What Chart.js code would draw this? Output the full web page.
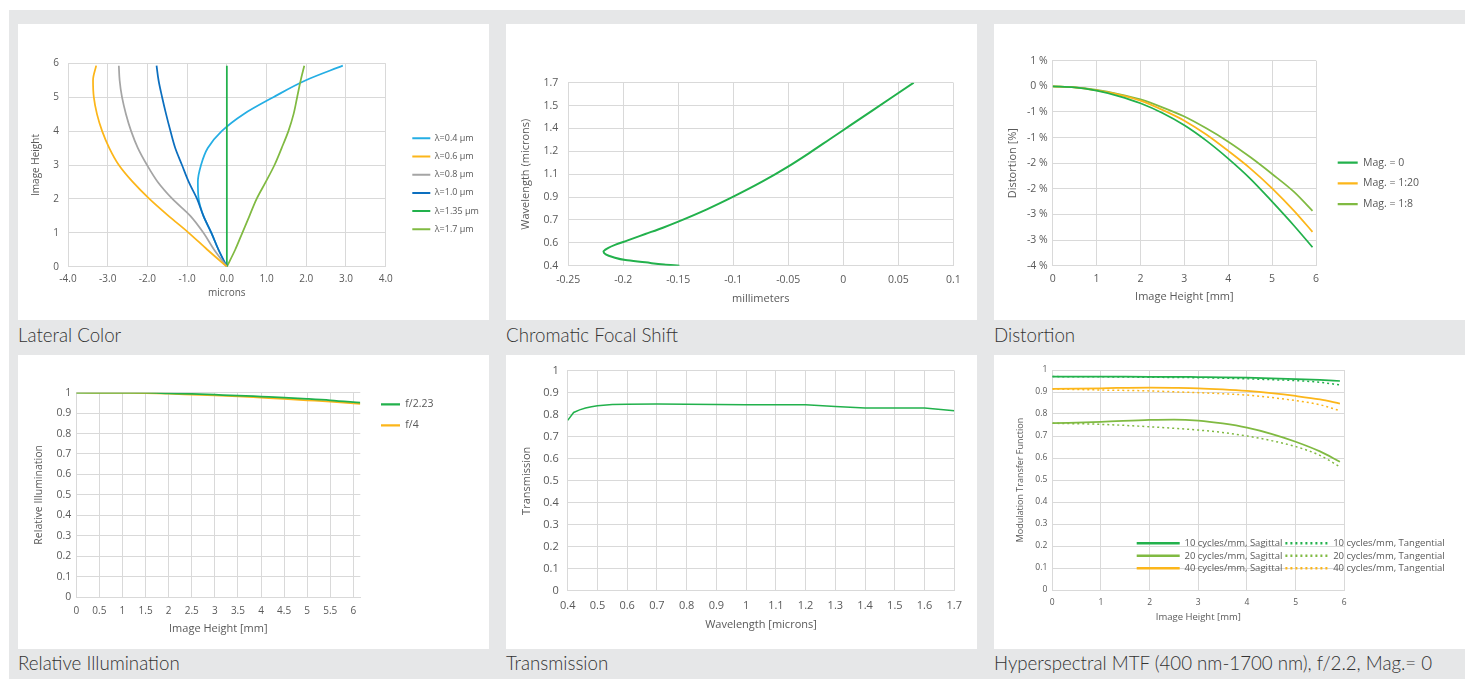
<!DOCTYPE html>
<html><head><meta charset="utf-8">
<script src="https://cdn.jsdelivr.net/npm/chart.js@4.4.1/dist/chart.umd.min.js"></script>
<style>
html,body{margin:0;padding:0;background:#fff;width:1465px;height:679px;overflow:hidden;}
#bg{position:absolute;left:9px;top:10px;width:1456px;height:669px;background:#e6e7e8;}
.panel{position:absolute;background:#fff;overflow:hidden;}
.panel canvas{display:block;}
.cap{position:absolute;font-family:Lato,'Open Sans',sans-serif;font-weight:300;font-size:18.7px;line-height:18.7px;color:#333;white-space:nowrap;}
</style></head><body>
<div id="bg"></div>
<div class="panel" style="left:18px;top:24px;width:471px;height:296px"><canvas id="c1" width="471" height="296"></canvas></div>
<div class="panel" style="left:506px;top:24px;width:471px;height:296px"><canvas id="c2" width="471" height="296"></canvas></div>
<div class="panel" style="left:994px;top:24px;width:471px;height:296px"><canvas id="c3" width="471" height="296"></canvas></div>
<div class="panel" style="left:18px;top:355px;width:471px;height:294px"><canvas id="c4" width="471" height="294"></canvas></div>
<div class="panel" style="left:506px;top:355px;width:471px;height:294px"><canvas id="c5" width="471" height="294"></canvas></div>
<div class="panel" style="left:994px;top:355px;width:471px;height:294px"><canvas id="c6" width="471" height="294"></canvas></div>
<div class="cap" style="left:18px;top:326.4px">Lateral Color</div>
<div class="cap" style="left:506px;top:326.4px">Chromatic Focal Shift</div>
<div class="cap" style="left:994px;top:326.4px">Distortion</div>
<div class="cap" style="left:18px;top:654.4px">Relative Illumination</div>
<div class="cap" style="left:506px;top:654.4px">Transmission</div>
<div class="cap" style="left:994px;top:654.4px">Hyperspectral MTF (400 nm-1700 nm), f/2.2, Mag.= 0</div>
<script>
// ---------------- DATA ----------------
// Lateral Color (x = microns, y = image height)
const latHeights = [0, 0.5, 1, 1.5, 2, 2.5, 3, 3.5, 4, 4.5, 5, 5.5, 5.93];
const lat04  = [0, -0.21, -0.39, -0.59, -0.71, -0.73, -0.65, -0.48, -0.13, 0.42, 1.17, 1.99, 2.92];
const lat06  = [0, -0.49, -0.96, -1.47, -1.95, -2.37, -2.72, -2.96, -3.14, -3.27, -3.35, -3.37, -3.29];
const lat08  = [0, -0.32, -0.59, -0.92, -1.37, -1.74, -2.01, -2.24, -2.41, -2.54, -2.64, -2.70, -2.72];
const lat10  = [0, -0.21, -0.39, -0.59, -0.75, -0.96, -1.13, -1.30, -1.42, -1.53, -1.63, -1.72, -1.77];
const lat135 = [0, 0, 0, 0, 0, 0, 0, 0, 0, 0, 0, 0, 0];
const lat17  = [0, 0.21, 0.39, 0.57, 0.75, 0.98, 1.20, 1.38, 1.55, 1.68, 1.77, 1.86, 1.95];
const latSeriesLabels = ['λ=0.4 µm', 'λ=0.6 µm', 'λ=0.8 µm', 'λ=1.0 µm', 'λ=1.35 µm', 'λ=1.7 µm'];
const latXTickLabels = ['-4.0', '-3.0', '-2.0', '-1.0', '0.0', '1.0', '2.0', '3.0', '4.0'];
const latYTickLabels = ['0', '1', '2', '3', '4', '5', '6'];

// Chromatic Focal Shift (x = millimeters, y = wavelength)
const chromWavelength = [0.40, 0.408, 0.424, 0.44, 0.46, 0.48, 0.50, 0.525, 0.55, 0.58, 0.625, 0.67, 0.713, 0.80, 0.89, 1.00, 1.10, 1.20, 1.30, 1.40, 1.50, 1.60, 1.70];
const chromShift = [-0.149, -0.163, -0.180, -0.198, -0.209, -0.216, -0.218, -0.214, -0.207, -0.196, -0.180, -0.164, -0.150, -0.124, -0.100, -0.073, -0.051, -0.031, -0.012, 0.007, 0.026, 0.045, 0.064];
const chromXTickLabels = ['-0.25', '-0.2', '-0.15', '-0.1', '-0.05', '0', '0.05', '0.1'];
const chromYTickValues = [0.4, 0.5625, 0.725, 0.8875, 1.05, 1.2125, 1.375, 1.5375, 1.7];
const chromYTickLabels = ['0.4', '0.6', '0.7', '0.9', '1.1', '1.2', '1.4', '1.5', '1.7'];

// Distortion (%)
const distHeights = [0, 0.5, 1, 1.5, 2, 2.5, 3, 3.5, 4, 4.5, 5, 5.5, 5.92];
const distMag0  = [0, -0.02, -0.085, -0.19, -0.33, -0.52, -0.76, -1.06, -1.41, -1.80, -2.25, -2.72, -3.14];
const distMag20 = [0, -0.02, -0.08, -0.16, -0.28, -0.46, -0.67, -0.94, -1.26, -1.60, -1.99, -2.43, -2.84];
const distMag8  = [0, -0.02, -0.07, -0.15, -0.255, -0.41, -0.59, -0.82, -1.08, -1.38, -1.71, -2.06, -2.43];
const distSeriesLabels = ['Mag. = 0', 'Mag. = 1:20', 'Mag. = 1:8'];
const distXTickLabels = ['0', '1', '2', '3', '4', '5', '6'];
const distYTickValues = [-3.5, -3, -2.5, -2, -1.5, -1, -0.5, 0, 0.5];
const distYTickLabels = ['-4 %', '-3 %', '-3 %', '-2 %', '-2 %', '-1 %', '-1 %', '0 %', '1 %'];

// Relative Illumination
const illumHeights = [0, 1, 1.5, 2, 2.5, 3, 3.5, 4, 4.5, 5, 5.5, 6.15];
const illumF223 = [1, 1, 1, 0.997, 0.994, 0.990, 0.986, 0.981, 0.976, 0.970, 0.963, 0.951];
const illumF4   = [1, 0.999, 0.998, 0.995, 0.991, 0.987, 0.982, 0.976, 0.970, 0.963, 0.956, 0.945];
const illumSeriesLabels = ['f/2.23', 'f/4'];
const illumXTickLabels = ['0', '0.5', '1', '1.5', '2', '2.5', '3', '3.5', '4', '4.5', '5', '5.5', '6'];
const unitYTickLabels = ['0', '0.1', '0.2', '0.3', '0.4', '0.5', '0.6', '0.7', '0.8', '0.9', '1'];

// Transmission
const transWavelength = [0.40, 0.42, 0.44, 0.46, 0.48, 0.50, 0.55, 0.60, 0.70, 0.80, 0.90, 1.00, 1.10, 1.20, 1.30, 1.40, 1.50, 1.60, 1.70];
const transValue = [0.774, 0.810, 0.822, 0.830, 0.836, 0.841, 0.846, 0.847, 0.848, 0.847, 0.846, 0.845, 0.845, 0.845, 0.837, 0.830, 0.830, 0.830, 0.818];
const transXTickLabels = ['0.4', '0.5', '0.6', '0.7', '0.8', '0.9', '1', '1.1', '1.2', '1.3', '1.4', '1.5', '1.6', '1.7'];

// Hyperspectral MTF
const mtfHeights = [0, 1, 2, 2.5, 3, 3.5, 4, 4.5, 5, 5.5, 5.91];
const mtf10S = [0.970, 0.970, 0.969, 0.969, 0.968, 0.967, 0.965, 0.962, 0.959, 0.955, 0.950];
const mtf20S = [0.758, 0.764, 0.773, 0.775, 0.770, 0.757, 0.738, 0.710, 0.674, 0.630, 0.583];
const mtf40S = [0.914, 0.917, 0.920, 0.919, 0.917, 0.912, 0.905, 0.895, 0.882, 0.866, 0.847];
const mtf10T = [0.970, 0.969, 0.967, 0.966, 0.965, 0.963, 0.960, 0.956, 0.952, 0.944, 0.932];
const mtf20T = [0.758, 0.753, 0.742, 0.735, 0.727, 0.716, 0.700, 0.679, 0.652, 0.612, 0.560];
const mtf40T = [0.914, 0.909, 0.905, 0.901, 0.897, 0.892, 0.886, 0.875, 0.861, 0.842, 0.815];
const mtfSeriesLabels = ['10 cycles/mm, Sagittal', '20 cycles/mm, Sagittal', '40 cycles/mm, Sagittal',
                         '10 cycles/mm, Tangential', '20 cycles/mm, Tangential', '40 cycles/mm, Tangential'];
const mtfXTickLabels = ['0', '1', '2', '3', '4', '5', '6'];

// ---------------- STYLE ----------------
const C_CYAN = '#25aee4', C_ORANGE = '#fcb61a', C_GRAY = '#a5a5a5', C_BLUE = '#0c6fbf', C_GREEN = '#22b14c', C_OLIVE = '#80ba42';
const TICK = '#595959', GRID = '#d9d9d9';
Chart.defaults.font.family = "'Open Sans', 'Noto Sans', sans-serif";
Chart.defaults.color = TICK;

const pts = (xs, ys) => xs.map((x, i) => ({ x: x, y: ys[i] }));
const num = arr => arr.map(s => parseFloat(s));

const placeLegend = {
  id: 'placeLegend',
  afterLayout(chart, args, o) {
    const lg = chart.legend;
    if (!lg || !o || o.x == null) return;
    lg.update(o.maxWidth || 400, o.maxHeight || 400, { left: 0, top: 0, right: 0, bottom: 0 });
    const left = o.x - o.pad, top = o.y - o.pad - o.fs / 2;
    lg.left = left; lg.top = top; lg.right = left + lg.width; lg.bottom = top + lg.height;
    if (lg.adjustHitBoxes) lg.adjustHitBoxes();
  }
};
Chart.register(placeLegend);

function linAxis(o, isX, size) {
  return {
    type: 'linear', min: o.min, max: o.max,
    afterBuildTicks: s => { s.ticks = o.values.map(v => ({ value: v })); },
    afterFit: s => { if (isX) s.height = size; else s.width = size; },
    ticks: { autoSkip: false, maxRotation: 0, minRotation: 0, padding: o.pad, color: TICK,
             font: { size: o.tickSize }, callback: (v, i) => o.labels[i] },
    grid: { color: GRID, lineWidth: 1, drawTicks: false },
    border: { display: true, color: GRID, width: 1 },
    title: { display: true, text: o.title, color: TICK, font: { size: o.titleSize }, padding: 0 }
  };
}

function build(id, W, H, c) {
  const L = c.yTitleX - 0.6 * c.y.titleSize;
  const B = H - c.xTitleY - 0.6 * c.x.titleSize;
  const xSize = (H - B) - c.area.b;
  const ySize = c.area.l - L;
  const legendOpts = c.legend ? {
    display: true, position: 'chartArea', align: 'start',
    labels: {
      usePointStyle: true, pointStyle: 'line', pointStyleWidth: c.legend.boxWidth, boxWidth: c.legend.boxWidth,
      padding: c.legend.pad, color: TICK, font: { size: c.legend.fs },
      generateLabels: chart => chart.data.datasets.map((ds, i) => ({
        text: ds.label, strokeStyle: ds.borderColor, fillStyle: ds.borderColor, fontColor: TICK,
        lineWidth: c.legend.lw, lineDash: ds.borderDash || [], lineCap: 'butt', pointStyle: 'line',
        hidden: false, datasetIndex: i
      }))
    }
  } : { display: false };
  return new Chart(document.getElementById(id), {
    type: 'line',
    data: { datasets: c.datasets },
    options: {
      indexAxis: c.indexAxis || 'x',
      responsive: false, animation: false, events: [],
      layout: { padding: { left: L, right: W - c.area.r, top: c.area.t, bottom: B } },
      elements: { point: { radius: 0 }, line: { borderWidth: 1.75, fill: false } },
      scales: { x: linAxis(c.x, true, xSize), y: linAxis(c.y, false, ySize) },
      plugins: {
        legend: legendOpts,
        tooltip: { enabled: false },
        placeLegend: c.legend ? { x: c.legend.x, y: c.legend.y, pad: c.legend.pad, fs: c.legend.fs, maxHeight: c.legend.maxHeight } : {}
      }
    }
  });
}

function ds(label, xs, ys, color, extra) {
  return Object.assign({ label: label, data: pts(xs, ys), borderColor: color, backgroundColor: color,
    pointRadius: 0, borderWidth: 1.75, fill: false, cubicInterpolationMode: 'monotone' }, extra || {});
}

// 1. Lateral Color
build('c1', 471, 296, {
  indexAxis: 'y',
  area: { l: 50, t: 39.3, r: 367.7, b: 242.7 }, yTitleX: 18.3, xTitleY: 269.3,
  x: { min: -4, max: 4, values: num(latXTickLabels), labels: latXTickLabels, pad: 6.6, tickSize: 10, title: 'microns', titleSize: 10 },
  y: { min: 0, max: 6, values: num(latYTickLabels), labels: latYTickLabels, pad: 9, tickSize: 10, title: 'Image Height', titleSize: 10 },
  legend: { x: 394.3, y: 114.3, pad: 9.2, fs: 9, boxWidth: 18, lw: 2 },
  datasets: [
    ds(latSeriesLabels[0], lat04, latHeights, C_CYAN, { order: 1 }),
    ds(latSeriesLabels[1], lat06, latHeights, C_ORANGE),
    ds(latSeriesLabels[2], lat08, latHeights, C_GRAY),
    ds(latSeriesLabels[3], lat10, latHeights, C_BLUE),
    ds(latSeriesLabels[4], lat135, latHeights, C_GREEN),
    ds(latSeriesLabels[5], lat17, latHeights, C_OLIVE)
  ]
});

// 2. Chromatic Focal Shift
build('c2', 471, 296, {
  indexAxis: 'y',
  area: { l: 62.3, t: 58.7, r: 447.3, b: 241.7 }, yTitleX: 19.7, xTitleY: 275.3,
  x: { min: -0.25, max: 0.1, values: num(chromXTickLabels), labels: chromXTickLabels, pad: 8, tickSize: 10.5, title: 'millimeters', titleSize: 11 },
  y: { min: 0.4, max: 1.7, values: chromYTickValues, labels: chromYTickLabels, pad: 10, tickSize: 10.5, title: 'Wavelength (microns)', titleSize: 11 },
  datasets: [ ds('Chromatic Focal Shift', chromShift, chromWavelength, C_GREEN, { borderWidth: 2 }) ]
});

// 3. Distortion
build('c3', 471, 296, {
  area: { l: 58.7, t: 36.7, r: 322, b: 241.7 }, yTitleX: 19.3, xTitleY: 273.3,
  x: { min: 0, max: 6, values: num(distXTickLabels), labels: distXTickLabels, pad: 7.3, tickSize: 10.5, title: 'Image Height [mm]', titleSize: 11 },
  y: { min: -3.5, max: 0.5, values: distYTickValues, labels: distYTickLabels, pad: 5, tickSize: 10.5, title: 'Distortion [%]', titleSize: 11 },
  legend: { x: 343.7, y: 138.7, pad: 10.15, fs: 10.5, boxWidth: 20, lw: 2.25 },
  datasets: [
    ds(distSeriesLabels[0], distHeights, distMag0, C_GREEN),
    ds(distSeriesLabels[1], distHeights, distMag20, C_ORANGE),
    ds(distSeriesLabels[2], distHeights, distMag8, C_OLIVE)
  ]
});

// 4. Relative Illumination
build('c4', 471, 294, {
  area: { l: 58.3, t: 37.7, r: 342.3, b: 242 }, yTitleX: 20.7, xTitleY: 274,
  x: { min: 0, max: 6.15, values: num(illumXTickLabels), labels: illumXTickLabels, pad: 8, tickSize: 10, title: 'Image Height [mm]', titleSize: 11 },
  y: { min: 0, max: 1, values: num(unitYTickLabels), labels: unitYTickLabels, pad: 5, tickSize: 10.5, title: 'Relative Illumination', titleSize: 10.5 },
  legend: { x: 363, y: 49.3, pad: 10.5, fs: 10.5, boxWidth: 19, lw: 2.25 },
  datasets: [
    ds(illumSeriesLabels[0], illumHeights, illumF223, C_GREEN),
    ds(illumSeriesLabels[1], illumHeights, illumF4, C_ORANGE)
  ]
});

// 5. Transmission
build('c5', 471, 294, {
  area: { l: 61.7, t: 14.3, r: 448.3, b: 236 }, yTitleX: 20.7, xTitleY: 270,
  x: { min: 0.4, max: 1.7, values: num(transXTickLabels), labels: transXTickLabels, pad: 8.4, tickSize: 11, title: 'Wavelength [microns]', titleSize: 11 },
  y: { min: 0, max: 1, values: num(unitYTickLabels), labels: unitYTickLabels, pad: 9, tickSize: 11, title: 'Transmission', titleSize: 11 },
  datasets: [ ds('Transmission', transWavelength, transValue, C_GREEN, { cubicInterpolationMode: 'default', tension: 0, borderWidth: 1.5 }) ]
});

// 6. Hyperspectral MTF
const dot = { borderDash: [2, 3], borderWidth: 1.5 };
const sol = { borderWidth: 1.75 };
build('c6', 471, 294, {
  area: { l: 58.3, t: 15, r: 350.3, b: 235 }, yTitleX: 26, xTitleY: 262.3,
  x: { min: 0, max: 6, values: num(mtfXTickLabels), labels: mtfXTickLabels, pad: 7.2, tickSize: 8.5, title: 'Image Height [mm]', titleSize: 9.5 },
  y: { min: 0, max: 1, values: num(unitYTickLabels), labels: unitYTickLabels, pad: 5, tickSize: 8.5, title: 'Modulation Transfer Function', titleSize: 9 },
  legend: { x: 142.7, y: 188.3, pad: 3, fs: 9.5, boxWidth: 43, lw: 2.5, maxHeight: 46 },
  datasets: [
    ds(mtfSeriesLabels[0], mtfHeights, mtf10S, C_GREEN, sol),
    ds(mtfSeriesLabels[1], mtfHeights, mtf20S, C_OLIVE, sol),
    ds(mtfSeriesLabels[2], mtfHeights, mtf40S, C_ORANGE, sol),
    ds(mtfSeriesLabels[3], mtfHeights, mtf10T, C_GREEN, dot),
    ds(mtfSeriesLabels[4], mtfHeights, mtf20T, C_OLIVE, dot),
    ds(mtfSeriesLabels[5], mtfHeights, mtf40T, C_ORANGE, dot)
  ]
});
</script>
</body></html>
